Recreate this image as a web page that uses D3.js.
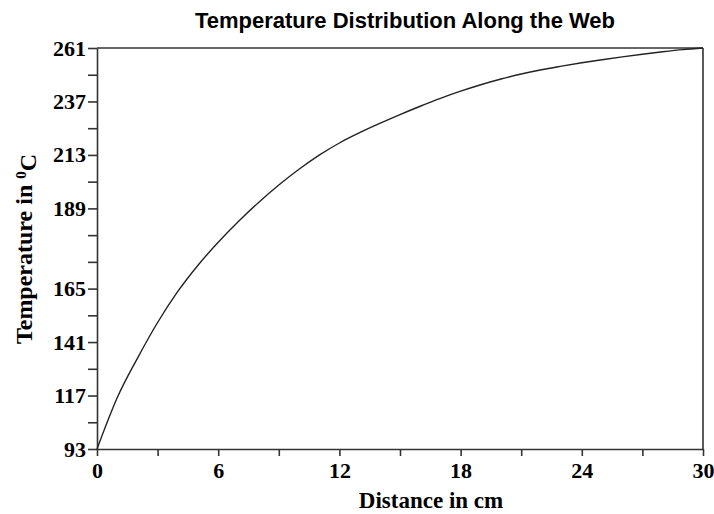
<!DOCTYPE html>
<meta charset="utf-8">
<style>
    body {
        margin: 0;
        background: #fff;
    }
    .axis text {
        font-family: 'Liberation Serif', 'Times New Roman', serif;
        font-weight: bold;
        font-size: 22px;
        fill: #000;
    }
    .axis path, .axis line {
        stroke: #333;
        stroke-width: 1.6px;
    }
</style>
<svg width="714" height="514"></svg>
<script src="https://d3js.org/d3.v7.min.js"></script>
<script>
    // values (one per cm)
    var distance = [0, 1, 2, 3, 4, 5, 6, 7, 8, 9, 10, 11, 12, 13, 14, 15,
        16, 17, 18, 19, 20, 21, 22, 23, 24, 25, 26, 27, 28, 29, 30];
    var temperature = [93, 114.5, 131, 146, 159, 170, 179.6, 188.3, 196.3, 203.6, 210.2, 216.1, 221.2, 225.5, 229.4, 233.1,
        236.6, 239.9, 242.9, 245.6, 248.0, 250.1, 251.9, 253.4, 254.8, 256.1, 257.3, 258.4, 259.4, 260.3, 261];

    // tick labels as printed on the axes ("" = unlabeled minor tick)
    var xTickLabels = ["0", "", "6", "", "12", "", "18", "", "24", "", "30"];
    var yTickLabels = ["93", "", "117", "", "141", "", "165", "", "", "189", "", "213", "", "237", "", "261"];

    var title = "Temperature Distribution Along the Web";
    var xTitle = "Distance in cm";

    var svg = d3.select("svg"),
        margin = {top: 48, right: 11, bottom: 65, left: 97},
        width = +svg.attr("width") - margin.left - margin.right,
        height = +svg.attr("height") - margin.top - margin.bottom,
        g = svg.append("g").attr("transform", "translate(" + margin.left + "," + margin.top + ")");

    var x = d3.scaleLinear().domain([0, 30]).range([0, width]);
    var y = d3.scaleLinear().domain([93, 261]).range([height, 0]);

    var xTicks = d3.range(xTickLabels.length).map(function(i) { return i * 30 / (xTickLabels.length - 1); });
    var yTicks = d3.range(yTickLabels.length).map(function(i) { return 93 + i * (261 - 93) / (yTickLabels.length - 1); });

    // frame top and right
    g.append("line")
        .attr("x1", 0).attr("x2", width).attr("y1", 0).attr("y2", 0)
        .attr("stroke", "#333").attr("stroke-width", 1.6);
    g.append("line")
        .attr("x1", width).attr("x2", width).attr("y1", 0).attr("y2", height)
        .attr("stroke", "#333").attr("stroke-width", 1.6);

    // x axis
    g.append("g")
        .attr("class", "axis")
        .attr("transform", "translate(0," + height + ")")
        .call(d3.axisBottom(x)
            .tickValues(xTicks)
            .tickSize(7)
            .tickSizeOuter(0)
            .tickPadding(6)
            .tickFormat(function(d, i) { return xTickLabels[i]; }));

    // y axis
    g.append("g")
        .attr("class", "axis")
        .call(d3.axisLeft(y)
            .tickValues(yTicks)
            .tickSize(9)
            .tickSizeOuter(0)
            .tickPadding(2)
            .tickFormat(function(d, i) { return yTickLabels[i]; }));

    // the curve
    var line = d3.line()
        .curve(d3.curveMonotoneX)
        .x(function(d) { return x(d[0]); })
        .y(function(d) { return y(d[1]); });

    g.append("path")
        .datum(d3.zip(distance, temperature))
        .attr("fill", "none")
        .attr("stroke", "#222")
        .attr("stroke-width", 1.4)
        .attr("d", line);

    // title
    svg.append("text")
        .attr("x", 405)
        .attr("y", 28)
        .attr("text-anchor", "middle")
        .style("font-family", "'Liberation Sans', Arial, sans-serif")
        .style("font-weight", "bold")
        .style("font-size", "22px")
        .text(title);

    // x axis title
    svg.append("text")
        .attr("x", 431)
        .attr("y", 508)
        .attr("text-anchor", "middle")
        .style("font-family", "'Liberation Serif', 'Times New Roman', serif")
        .style("font-weight", "bold")
        .style("font-size", "23px")
        .text(xTitle);

    // y axis title
    var yt = svg.append("text")
        .attr("transform", "translate(32,249) rotate(-90)")
        .attr("text-anchor", "middle")
        .style("font-family", "'Liberation Serif', 'Times New Roman', serif")
        .style("font-weight", "bold")
        .style("font-size", "24px");
    yt.append("tspan").text("Temperature in ");
    yt.append("tspan").attr("dy", "-0.4em").style("font-size", "15px").text("0");
    yt.append("tspan").attr("dy", "0.4em").text("C");
</script>
